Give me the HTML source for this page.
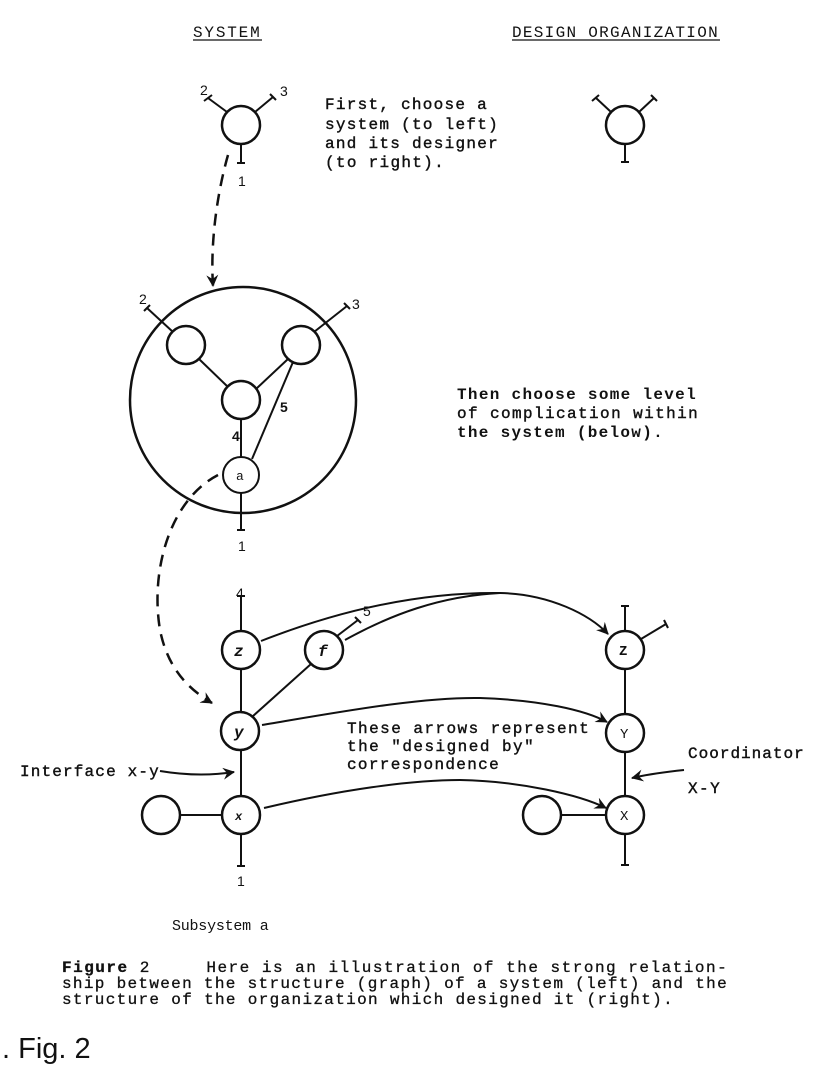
<!DOCTYPE html>
<html><head><meta charset="utf-8"><style>
html,body{margin:0;padding:0;background:#fff;}
svg{display:block;}
.m{font-family:"Liberation Mono",monospace;font-size:16px;letter-spacing:1.3px;fill:#111;white-space:pre;}
.b{font-weight:bold;}
.n{font-family:"Liberation Sans",sans-serif;font-size:14px;fill:#111;}
</style></head><body>
<svg width="837" height="1080" viewBox="0 0 837 1080" xmlns="http://www.w3.org/2000/svg" xml:space="preserve">
<defs>
<marker id="ah" markerWidth="14" markerHeight="12" refX="11" refY="6" orient="auto" markerUnits="userSpaceOnUse">
<path d="M0,0 L12,6 L0,12 L4,6 Z" fill="#111"/>
</marker>
</defs>
<g stroke="#111" fill="none" stroke-width="2">
<text class="m" x="193" y="37" stroke="none" textLength="68">SYSTEM</text>
<line x1="193" y1="40" x2="262" y2="40" stroke-width="1.2"/>
<text class="m" x="512" y="37" stroke="none" textLength="207">DESIGN ORGANIZATION</text>
<line x1="512" y1="40" x2="720" y2="40" stroke-width="1.2"/>

<circle cx="241" cy="125" r="19" stroke-width="2.5"/>
<line x1="227" y1="112" x2="208" y2="98"/><line x1="204" y1="101" x2="212" y2="95"/>
<line x1="255" y1="112" x2="273" y2="97"/><line x1="270" y1="94" x2="276" y2="100"/>
<line x1="241" y1="144" x2="241" y2="163"/><line x1="237" y1="163" x2="245" y2="163"/>
<text class="n" x="200" y="95" stroke="none">2</text>
<text class="n" x="280" y="96" stroke="none">3</text>
<text class="n" x="238" y="186" stroke="none">1</text>

<circle cx="625" cy="125" r="19" stroke-width="2.5"/>
<line x1="611" y1="112" x2="596" y2="98"/><line x1="592" y1="101" x2="599" y2="95"/>
<line x1="639" y1="112" x2="654" y2="98"/><line x1="651" y1="95" x2="657" y2="101"/>
<line x1="625" y1="144" x2="625" y2="162"/><line x1="621" y1="162" x2="629" y2="162"/>

<g stroke="#111" stroke-width="0.4">
<text class="m" x="325" y="109" textLength="163">First, choose a</text>
<text class="m" x="325" y="129" textLength="174">system (to left)</text>
<text class="m" x="325" y="148" textLength="174">and its designer</text>
<text class="m" x="325" y="167" textLength="120">(to right).</text>
</g>

<path d="M228,155 C218,190 210,240 213,286" stroke-dasharray="12,8" stroke-width="2.5" marker-end="url(#ah)"/>

<circle cx="243" cy="400" r="113" stroke-width="2.5"/>
<circle cx="186" cy="345" r="19" stroke-width="2.5"/>
<circle cx="301" cy="345" r="19" stroke-width="2.5"/>
<circle cx="241" cy="400" r="19" stroke-width="2.5"/>
<circle cx="241" cy="475" r="18" stroke-width="2"/>
<line x1="199" y1="359" x2="228" y2="387"/>
<line x1="288" y1="359" x2="256" y2="389"/>
<line x1="241" y1="419" x2="241" y2="457"/>
<line x1="293" y1="362" x2="252" y2="459"/>
<line x1="173" y1="332" x2="147" y2="308"/><line x1="144" y1="311" x2="150" y2="305"/>
<line x1="314" y1="332" x2="347" y2="306"/><line x1="344" y1="303" x2="350" y2="309"/>
<line x1="241" y1="493" x2="241" y2="530"/><line x1="237" y1="530" x2="245" y2="530"/>
<text class="n" x="139" y="304" stroke="none">2</text>
<text class="n" x="352" y="309" stroke="none">3</text>
<text class="n b" x="280" y="412" stroke="none">5</text>
<text class="n b" x="232" y="441" stroke="none">4</text>
<text class="m" x="236" y="480" stroke="none" style="font-size:13px;letter-spacing:0">a</text>
<text class="n" x="238" y="551" stroke="none">1</text>

<text class="m b" x="457" y="399" stroke="none" textLength="240">Then choose some level</text>
<text class="m" x="457" y="418" stroke="#111" stroke-width="0.4" textLength="242">of complication within</text>
<text class="m b" x="457" y="437" stroke="none" textLength="207">the system (below).</text>

<path d="M218,475 C170,500 150,570 160,630 C168,670 190,690 212,703" stroke-dasharray="12,8" stroke-width="2.5" marker-end="url(#ah)"/>

<line x1="241" y1="596" x2="241" y2="866"/><line x1="237" y1="596" x2="245" y2="596"/><line x1="237" y1="866" x2="245" y2="866"/>
<circle cx="241" cy="650" r="19" fill="#fff" stroke-width="2.5"/>
<circle cx="324" cy="650" r="19" fill="#fff" stroke-width="2.5"/>
<circle cx="240" cy="731" r="19" fill="#fff" stroke-width="2.5"/>
<circle cx="241" cy="815" r="19" fill="#fff" stroke-width="2.5"/>
<circle cx="161" cy="815" r="19" stroke-width="2.5"/>
<line x1="180" y1="815" x2="222" y2="815"/>
<line x1="253" y1="716" x2="311" y2="664"/>
<line x1="337" y1="636" x2="358" y2="620"/><line x1="355" y1="617" x2="361" y2="623"/>
<text class="n" x="236" y="598" stroke="none">4</text>
<text class="n" x="363" y="616" stroke="none">5</text>
<text class="n" x="237" y="886" stroke="none">1</text>
<text class="m b" x="234" y="656" stroke="none" style="font-style:italic;letter-spacing:0">z</text>
<text class="m b" x="318" y="656" stroke="none" style="font-style:italic;letter-spacing:0">f</text>
<text class="m b" x="234" y="737" stroke="none" style="font-style:italic;letter-spacing:0">y</text>
<text class="m b" x="235" y="820" stroke="none" style="font-style:italic;font-size:12px;letter-spacing:0">x</text>

<line x1="625" y1="606" x2="625" y2="865"/><line x1="621" y1="606" x2="629" y2="606"/><line x1="621" y1="865" x2="629" y2="865"/>
<circle cx="625" cy="650" r="19" fill="#fff" stroke-width="2.5"/>
<circle cx="625" cy="733" r="19" fill="#fff" stroke-width="2.5"/>
<circle cx="625" cy="815" r="19" fill="#fff" stroke-width="2.5"/>
<circle cx="542" cy="815" r="19" stroke-width="2.5"/>
<line x1="561" y1="815" x2="606" y2="815"/>
<line x1="641" y1="639" x2="666" y2="624"/><line x1="664" y1="620" x2="668" y2="628"/>
<text class="m b" x="619" y="655" stroke="none" style="font-size:14px;letter-spacing:0">Z</text>
<text class="m" x="620" y="738" stroke="none" style="font-size:14px;letter-spacing:0">Y</text>
<text class="m" x="620" y="820" stroke="none" style="font-size:14px;letter-spacing:0">X</text>

<path d="M261,641 C340,610 420,592 500,593 C550,594 590,615 608,634" marker-end="url(#ah)"/>
<path d="M345,640 C390,615 440,596 500,593"/>
<path d="M262,725 C340,712 420,697 480,698 C540,700 585,710 607,722" marker-end="url(#ah)"/>
<path d="M264,808 C340,790 410,780 460,780 C520,781 580,795 606,808" marker-end="url(#ah)"/>

<g stroke="#111" stroke-width="0.4">
<text class="m" x="347" y="733" textLength="243">These arrows represent</text>
<text class="m" x="347" y="751" textLength="188">the "designed by"</text>
<text class="m" x="347" y="769" textLength="153">correspondence</text>
<text class="m" x="20" y="776" textLength="140">Interface x-y</text>
<text class="m" x="688" y="758" textLength="117">Coordinator</text>
<text class="m" x="688" y="793" textLength="33">X-Y</text>
</g>
<path d="M160,771 C190,776 215,775 234,772" marker-end="url(#ah)"/>
<path d="M684,770 C665,772 645,775 632,778" marker-end="url(#ah)"/>

<text class="m" x="172" y="930" stroke="none" textLength="98" style="font-size:15px">Subsystem a</text>
<g stroke="#111" stroke-width="0.3">
<text class="m" x="62" y="972" textLength="666"><tspan font-weight="bold">Figure</tspan> 2     Here is an illustration of the strong relation-</text>
<text class="m" x="62" y="988" textLength="666">ship between the structure (graph) of a system (left) and the</text>
<text class="m" x="62" y="1004" textLength="612">structure of the organization which designed it (right).</text>
</g>
<text x="2" y="1058" stroke="none" style="font-family:'Liberation Sans',sans-serif;font-size:29px;fill:#111">. Fig. 2</text>
</g>
</svg>
</body></html>
